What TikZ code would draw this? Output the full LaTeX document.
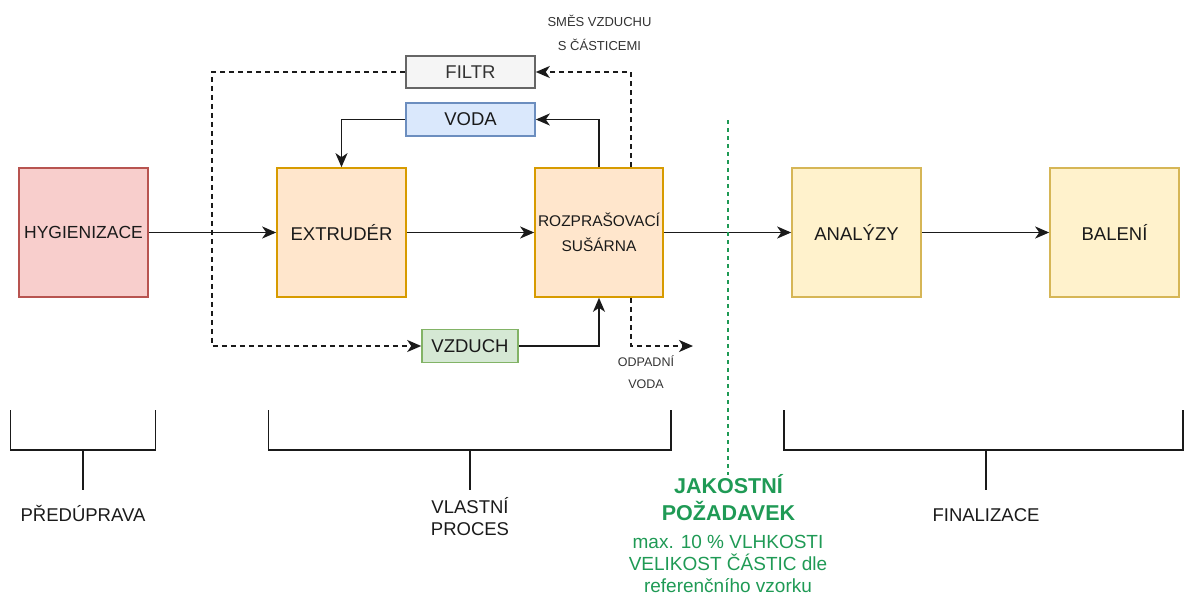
\documentclass[tikz,border=0pt]{standalone}
\usepackage{fontspec}
\setmainfont{Liberation Sans}
\usetikzlibrary{arrows.meta,calc}

\definecolor{hygF}{HTML}{F8CECC}
\definecolor{hygD}{HTML}{B85450}
\definecolor{prcF}{HTML}{FFE6CC}
\definecolor{prcD}{HTML}{D79B00}
\definecolor{finF}{HTML}{FFF2CC}
\definecolor{finD}{HTML}{D6B656}
\definecolor{filF}{HTML}{F5F5F5}
\definecolor{filD}{HTML}{666666}
\definecolor{filT}{HTML}{333333}
\definecolor{vodF}{HTML}{DAE8FC}
\definecolor{vodD}{HTML}{6C8EBF}
\definecolor{vzdF}{HTML}{D5E8D4}
\definecolor{vzdD}{HTML}{82B366}
\definecolor{ink}{HTML}{1A1A1A}
\definecolor{qual}{HTML}{1F9A55}

\begin{document}
\begin{tikzpicture}[x=1pt,y=-1pt,
  box/.style={draw, line width=1.6pt, minimum width=129pt, minimum height=129pt,
    inner sep=0pt, text=ink, font=\fontsize{18.5}{24}\selectfont},
  sbox/.style={draw, line width=1.6pt, minimum width=129pt, minimum height=32pt,
    inner sep=0pt, text=ink, font=\fontsize{18.5}{22}\selectfont},
  flow/.style={draw=ink, line width=1.8pt, -{Stealth[length=14pt,width=12pt,inset=4pt]}},
  dflow/.style={flow, dash pattern=on 5pt off 4pt},
  brk/.style={draw=ink, line width=1.8pt},
  note/.style={text=filT, inner sep=0pt, font=\fontsize{13}{16}\selectfont},
  phase/.style={text=ink, inner sep=0pt, anchor=base, font=\fontsize{18.5}{22}\selectfont},
  qhead/.style={text=qual, inner sep=0pt, anchor=base, font=\fontsize{21.5}{26}\selectfont\bfseries},
  qtext/.style={text=qual, inner sep=0pt, anchor=base, font=\fontsize{19}{22}\selectfont}
]
\useasboundingbox (0,0) rectangle (1184,595);

% process boxes
\node[box, fill=hygF, draw=hygD, font=\fontsize{17.5}{21}\selectfont] (hyg) at (83.5,232.5) {HYGIENIZACE};
\node[box, fill=prcF, draw=prcD] (ext) at (341.5,232.5) {EXTRUDÉR};
\node[box, fill=prcF, draw=prcD, minimum width=128pt, align=center,
      font=\fontsize{15.5}{24.5}\selectfont] (dry) at (599,232.5) {ROZPRAŠOVACÍ\\SUŠÁRNA};
\node[box, fill=finF, draw=finD] (ana) at (856.5,232.5) {ANALÝZY};
\node[box, fill=finF, draw=finD] (bal) at (1114.5,232.5) {BALENÍ};

% auxiliary media
\node[sbox, fill=filF, draw=filD, text=filT] (filtr) at (470.5,72) {FILTR};
\node[sbox, fill=vodF, draw=vodD, minimum height=33pt] (voda) at (470.5,119.5) {VODA};
\node[sbox, fill=vzdF, draw=vzdD, minimum width=96pt, minimum height=33pt] (vzduch) at (470,346) {VZDUCH};

% main line
\draw[flow] (hyg.east) -- (ext.west);
\draw[flow] (ext.east) -- (dry.west);
\draw[flow] (dry.east) -- (ana.west);
\draw[flow] (ana.east) -- (bal.west);

% water loop
\draw[flow] (dry.north) |- (voda.east);
\draw[flow] (voda.west) -| (ext.north);

% air loop through the filter
\coordinate (retL) at (212,72);
\draw[dflow] ([xshift=32pt]dry.north) |- (filtr.east);
\draw[dflow] (filtr.west) -- (retL) |- (vzduch.west);
\draw[flow] (vzduch.east) -| (dry.south);

% waste water
\coordinate (wasteEnd) at (693,346);
\draw[dflow] ([xshift=32pt]dry.south) |- (wasteEnd);

% stream labels
\node[note] (smes1) at (599.5,21) {SMĚS VZDUCHU};
\node[note] (smes2) at (599.5,45) {S ČÁSTICEMI};
\node[note, font=\fontsize{12.5}{15}\selectfont] (odp1) at (646,361) {ODPADNÍ};
\node[note, font=\fontsize{12.5}{15}\selectfont] (odp2) at (646,384) {VODA};

% phase brackets
\draw[brk] (10.5,410) -- (10.5,450) -- (155.5,450) -- (155.5,410);
\draw[brk] (83,450) -- (83,490);
\draw[brk] (268.5,410) -- (268.5,450) -- (671,450) -- (671,410);
\draw[brk] (470,450) -- (470,490);
\draw[brk] (784,410) -- (784,450) -- (1183.3,450) -- (1183.3,410);
\draw[brk] (986,450) -- (986,490);

\node[phase] (pre) at (83,521) {PŘEDÚPRAVA};
\node[phase] (own1) at (470,513) {VLASTNÍ};
\node[phase] (own2) at (470,535) {PROCES};
\node[phase] (fin) at (986,521.5) {FINALIZACE};

% quality gate
\coordinate (qTop) at (728,120);
\coordinate (qBot) at (728,475);
\draw[draw=qual, line width=1.5pt, dash pattern=on 4pt off 4pt] (qTop) -- (qBot);

\node[qhead] (q1) at (728.5,493) {JAKOSTNÍ};
\node[qhead] (q2) at (728.5,520) {POŽADAVEK};
\node[qtext] (q3) at (728,548) {max. 10 \% VLHKOSTI};
\node[qtext] (q4) at (728,570) {VELIKOST ČÁSTIC dle};
\node[qtext] (q5) at (728,592) {referenčního vzorku};
\end{tikzpicture}
\end{document}
